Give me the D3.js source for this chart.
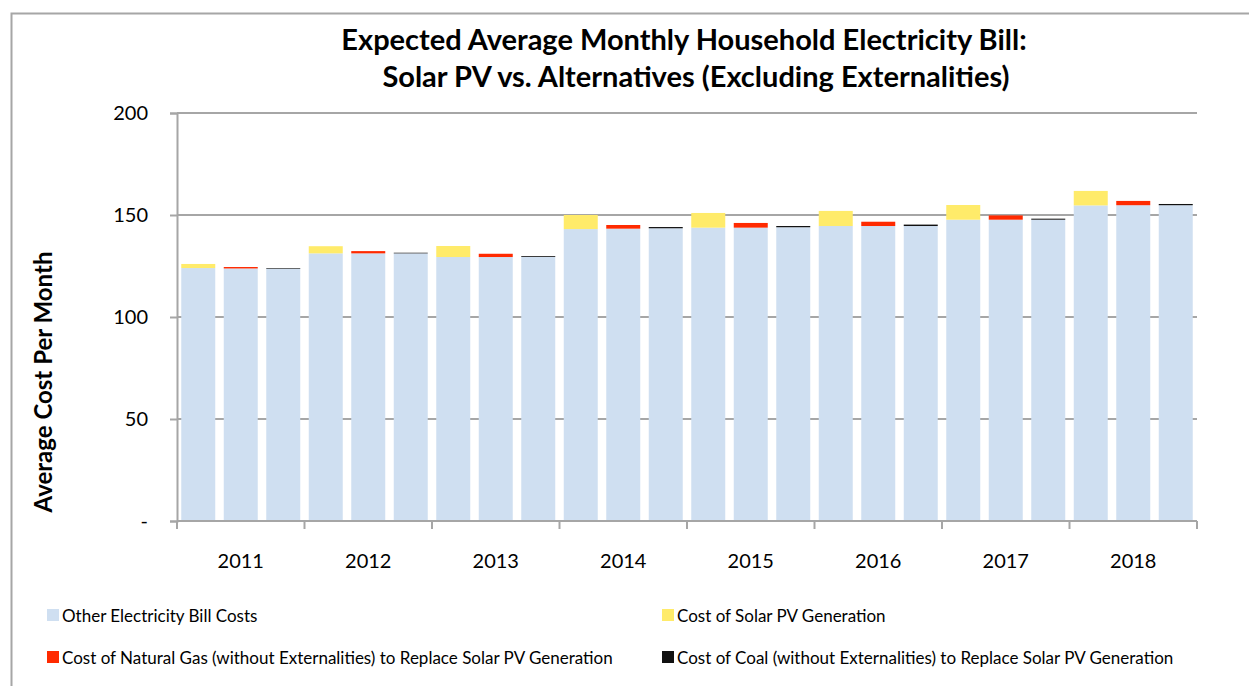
<!DOCTYPE html>
<html>
<head>
<meta charset="utf-8">
<script src="https://cdn.jsdelivr.net/npm/d3@7"></script>
<style>
  body { margin: 0; background: #fff; }
  text { font-family: Lato, "Open Sans", sans-serif; fill: #000; }
</style>
</head>
<body>
<div id="chart"></div>
<script>
// years and the three bars drawn for each year
const years = ["2011", "2012", "2013", "2014", "2015", "2016", "2017", "2018"];
const scenarios = ["solar", "gas", "coal"];

// "other" part of each bar, per scenario
const otherSolar = [124.0, 131.2, 129.4, 143.1, 143.8, 144.6, 147.7, 154.7];
const otherGas   = [123.8, 131.2, 129.4, 143.3, 143.8, 144.6, 147.7, 154.8];
const otherCoal  = [123.7, 131.2, 129.5, 143.5, 144.0, 144.6, 147.7, 154.8];

// generation cost on top
const solarCost = [2.0, 3.5, 5.4, 6.9, 7.2, 7.4, 7.2, 7.1];
const gasCost   = [0.7, 1.1, 1.6, 1.8, 2.3, 2.1, 2.1, 2.1];
const coalCost  = [0.3, 0.3, 0.4, 0.6, 0.6, 0.7, 0.5, 0.6];

const yTicks = [0, 50, 100, 150, 200];
const yTickLabels = ["-", "50", "100", "150", "200"];

const seriesKeys = ["other", "solar", "gas", "coal"];
const seriesNames = [
  "Other Electricity Bill Costs",
  "Cost of Solar PV Generation",
  "Cost of Natural Gas (without Externalities) to Replace Solar PV Generation",
  "Cost of Coal (without Externalities) to Replace Solar PV Generation"
];
const colors = ["#cfdff1", "#ffeb6a", "#ff2a00", "#111111"];

// build one row per bar
let rows = [];
years.forEach((yr, i) => {
  rows.push({ year: yr, scen: "solar", other: otherSolar[i], solar: solarCost[i], gas: 0, coal: 0 });
  rows.push({ year: yr, scen: "gas", other: otherGas[i], solar: 0, gas: gasCost[i], coal: 0 });
  rows.push({ year: yr, scen: "coal", other: otherCoal[i], solar: 0, gas: 0, coal: coalCost[i] });
});

const W = 1249, H = 686;
const plot = { left: 177, right: 1197, top: 113, bottom: 521 };

const svg = d3.select("#chart").append("svg")
  .attr("width", W)
  .attr("height", H);

// outer frame
svg.append("rect")
  .attr("x", 11.5).attr("y", 13.5)
  .attr("width", W + 20).attr("height", H + 20)
  .attr("fill", "none")
  .attr("stroke", "#a6a6a6")
  .attr("stroke-width", 2);

const x0 = d3.scaleBand().domain(years).range([plot.left, plot.right]);
const x1 = d3.scaleBand().domain(scenarios).range([0, x0.bandwidth()])
  .paddingInner(0.2).paddingOuter(0.1);
const y = d3.scaleLinear().domain([0, 200]).range([plot.bottom, plot.top]);

// gridlines
svg.append("g")
  .selectAll("line")
  .data(yTicks.filter(d => d > 0))
  .join("line")
    .attr("x1", plot.left).attr("x2", plot.right)
    .attr("y1", d => y(d)).attr("y2", d => y(d))
    .attr("stroke", "#a6a6a6")
    .attr("stroke-width", 2);

// stacked bars
const stacked = d3.stack().keys(seriesKeys)(rows);
svg.append("g")
  .selectAll("g")
  .data(stacked)
  .join("g")
    .attr("fill", (d, i) => colors[i])
  .selectAll("rect")
  .data(d => d.filter(p => p[1] - p[0] > 0))
  .join("rect")
    .attr("x", d => x0(d.data.year) + x1(d.data.scen))
    .attr("width", x1.bandwidth())
    .attr("y", d => y(d[1]))
    .attr("height", d => y(d[0]) - y(d[1]));

// y axis
const yAxis = svg.append("g")
  .attr("transform", `translate(${plot.left},0)`)
  .call(d3.axisLeft(y).tickValues(yTicks).tickSize(7).tickPadding(22)
    .tickFormat((d, i) => yTickLabels[i]));
yAxis.attr("font-family", null).attr("font-size", null);
yAxis.select(".domain").attr("stroke", "#a6a6a6").attr("stroke-width", 2);
yAxis.selectAll(".tick line").attr("stroke", "#a6a6a6").attr("stroke-width", 2);
yAxis.selectAll(".tick text").style("font-size", "20px");

// x axis: ticks at group boundaries
svg.append("line")
  .attr("x1", plot.left).attr("x2", plot.right)
  .attr("y1", plot.bottom).attr("y2", plot.bottom)
  .attr("stroke", "#a6a6a6").attr("stroke-width", 2);
const bounds = years.map(d => x0(d)).concat([plot.right]);
svg.append("g")
  .selectAll("line")
  .data(bounds)
  .join("line")
    .attr("x1", d => d).attr("x2", d => d)
    .attr("y1", plot.bottom).attr("y2", plot.bottom + 8)
    .attr("stroke", "#a6a6a6").attr("stroke-width", 2);
svg.append("g")
  .selectAll("text")
  .data(years)
  .join("text")
    .attr("x", d => x0(d) + x0.bandwidth() / 2)
    .attr("y", 568)
    .attr("text-anchor", "middle")
    .style("font-size", "20px")
    .text(d => d);

// title
svg.append("text")
  .attr("x", 684).attr("y", 50)
  .attr("text-anchor", "middle")
  .style("font-size", "29px").style("font-weight", "bold")
  .text("Expected Average Monthly Household Electricity Bill:");
svg.append("text")
  .attr("x", 696).attr("y", 87)
  .attr("text-anchor", "middle")
  .style("font-size", "29px").style("font-weight", "bold")
  .text("Solar PV vs. Alternatives (Excluding Externalities)");

// y axis label
svg.append("text")
  .attr("transform", "translate(52,382) rotate(-90)")
  .attr("text-anchor", "middle")
  .style("font-size", "24px").style("font-weight", "bold")
  .text("Average Cost Per Month");

// legend
const legPos = [[47, 616], [662, 616], [47, 658], [662, 658]];
const leg = svg.append("g")
  .selectAll("g")
  .data(seriesNames)
  .join("g")
    .attr("transform", (d, i) => `translate(${legPos[i][0]},${legPos[i][1]})`);
leg.append("rect")
  .attr("x", 0).attr("y", -7)
  .attr("width", 12).attr("height", 12)
  .attr("fill", (d, i) => colors[i]);
leg.append("text")
  .attr("x", 15).attr("y", 6)
  .style("font-size", "17px")
  .text(d => d);
</script>
</body>
</html>
